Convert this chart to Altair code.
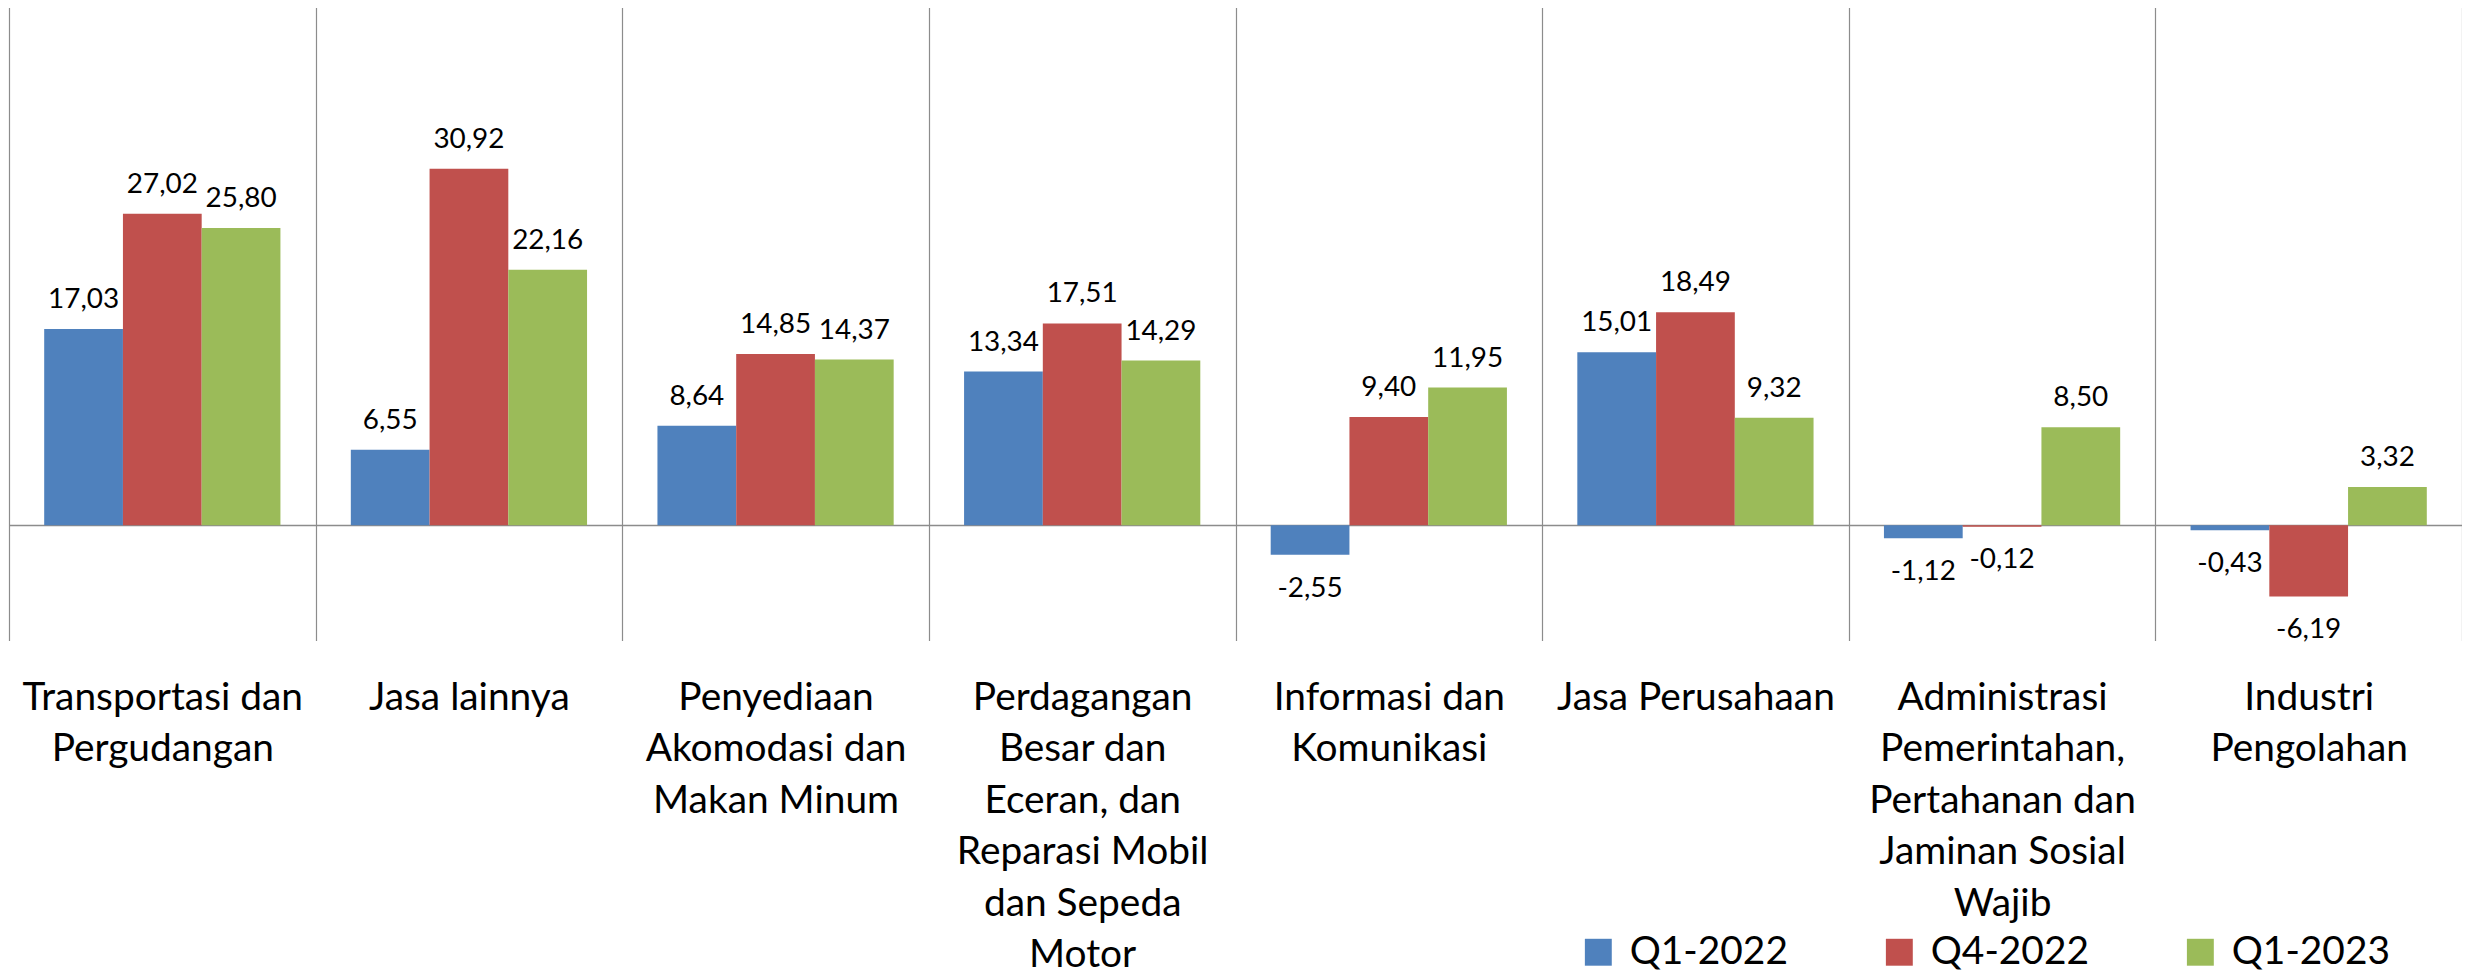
import altair as alt
import pandas as pd

# ---- data ----
category_lines = [
    ["Transportasi dan", "Pergudangan"],
    ["Jasa lainnya"],
    ["Penyediaan", "Akomodasi dan", "Makan Minum"],
    ["Perdagangan", "Besar dan", "Eceran, dan", "Reparasi Mobil", "dan Sepeda", "Motor"],
    ["Informasi dan", "Komunikasi"],
    ["Jasa Perusahaan"],
    ["Administrasi", "Pemerintahan,", "Pertahanan dan", "Jaminan Sosial", "Wajib"],
    ["Industri", "Pengolahan"],
]
series = ["Q1-2022", "Q4-2022", "Q1-2023"]
q1_2022 = [17.03, 6.55, 8.64, 13.34, -2.55, 15.01, -1.12, -0.43]
q4_2022 = [27.02, 30.92, 14.85, 17.51, 9.40, 18.49, -0.12, -6.19]
q1_2023 = [25.80, 22.16, 14.37, 14.29, 11.95, 9.32, 8.50, 3.32]

colors = ["#4F81BD", "#C0504D", "#9BBB59"]

categories = ["\n".join(lines) for lines in category_lines]
rows = []
for i, cat in enumerate(categories):
    for s, vals in zip(series, [q1_2022, q4_2022, q1_2023]):
        rows.append({"kategori": cat, "periode": s, "nilai": vals[i]})
df = pd.DataFrame(rows)

FONT = "Lato"
GRID = "#8C8C8C"

x_enc = alt.X(
    "kategori:N",
    sort=categories,
    scale=alt.Scale(paddingInner=0, paddingOuter=0),
    axis=alt.Axis(
        title=None,
        labelAngle=0,
        labelExpr="split(datum.label, '\\n')",
        labelFont=FONT,
        labelFontSize=39,
        labelLineHeight=51.6,
        labelColor="#000000",
        labelBaseline="top",
        labelPadding=38,
        labelLimit=600,
        labelOverlap=False,
        domain=False,
        ticks=False,
        grid=True,
        tickBand="extent",
        gridColor=GRID,
        gridWidth=1.2,
    ),
)
xoff_enc = alt.XOffset(
    "periode:N", sort=series, scale=alt.Scale(paddingOuter=0.447, paddingInner=0)
)
y_enc = alt.Y(
    "nilai:Q",
    scale=alt.Scale(domain=[-10, 45], nice=False),
    axis=alt.Axis(
        title=None,
        labels=False,
        ticks=False,
        domain=False,
        grid=True,
        values=[0],
        gridColor=GRID,
        gridWidth=1.5,
    ),
)

base = alt.Chart(df).transform_calculate(
    label="(datum.nilai < 0 ? '-' : '') + replace(format(abs(datum.nilai), '.2f'), '.', ',')"
).encode(x=x_enc, xOffset=xoff_enc, y=y_enc)

bars = base.mark_bar().encode(
    color=alt.Color(
        "periode:N",
        sort=series,
        scale=alt.Scale(domain=series, range=colors),
        legend=alt.Legend(
            title=None,
            orient="none",
            direction="horizontal",
            columns=3,
            legendX=1575,
            legendY=929,
            symbolType="square",
            symbolSize=729,
            symbolStrokeWidth=0,
            symbolOpacity=1,
            labelFont=FONT,
            labelFontSize=39,
            labelColor="#000000",
            labelOffset=12,
            columnPadding=92,
            padding=0,
        ),
    )
)

pos_text = base.mark_text(
    font=FONT, fontSize=28, color="#000000", baseline="alphabetic", dy=-21
).encode(text="label:N").transform_filter("datum.nilai >= 0")

neg_text = base.mark_text(
    font=FONT, fontSize=28, color="#000000", baseline="alphabetic", dy=42
).encode(text="label:N").transform_filter("datum.nilai < 0")

chart = (
    alt.layer(bars, pos_text, neg_text)
    .properties(
        width=2461,
        height=636,
        autosize=alt.AutoSizeParams(type="none"),
        padding={"left": 1, "top": -3, "right": 0, "bottom": 332},
    )
    .configure_view(stroke=None)
)

chart.save("out.html", embed_options={"renderer": "svg", "actions": False})
